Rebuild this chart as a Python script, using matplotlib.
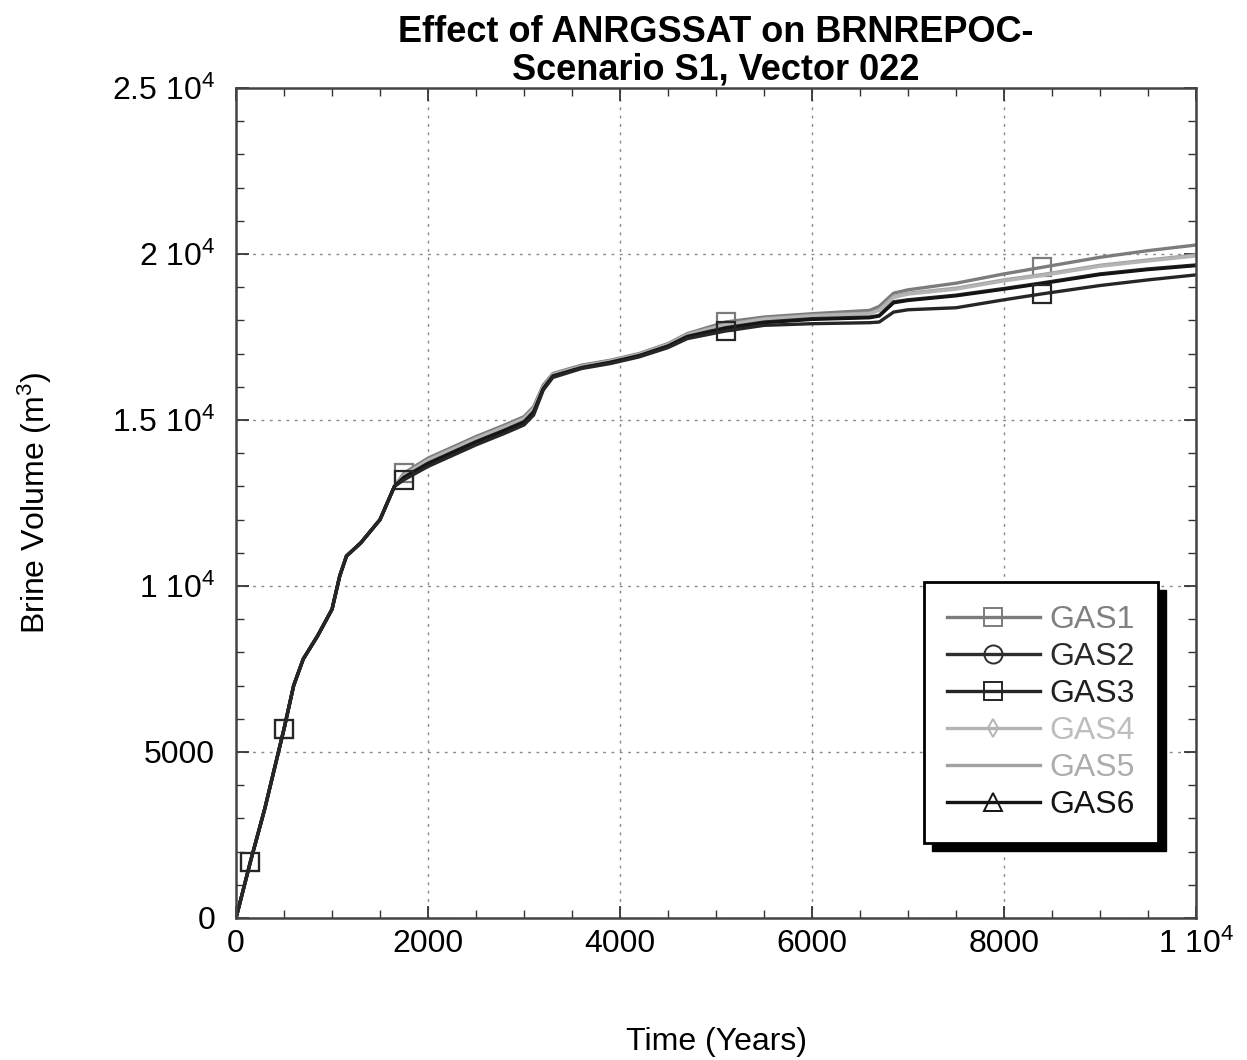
import matplotlib
matplotlib.use("Agg")
import matplotlib.pyplot as plt
from matplotlib.lines import Line2D
from matplotlib.patches import Rectangle
from matplotlib.ticker import FixedLocator, MultipleLocator, FixedFormatter

plt.rcParams['font.family'] = ['Liberation Sans', 'DejaVu Sans']
plt.rcParams['mathtext.default'] = 'regular'

# ---- data ----
time_years = [0, 150, 300, 500, 600, 700, 850, 1000, 1080, 1150, 1300, 1500, 1650, 1750,
              2000, 2500, 2800, 3000, 3100, 3200, 3300, 3600, 3900, 4200, 4500, 4700,
              5100, 5500, 6000, 6600, 6700, 6850, 7000, 7500, 8000, 8400, 9000, 9500, 10000]

early_common = [0, 1700, 3300, 5700, 7000, 7800, 8500, 9300, 10300, 10900, 11300, 12000, 13000]

gas1 = early_common + [13400, 13850, 14500, 14850, 15100, 15400, 16050, 16400, 16650, 16800,
                       17000, 17300, 17600, 17950, 18100, 18200, 18300, 18420, 18820, 18920,
                       19120, 19400, 19600, 19900, 20100, 20270]
gas5 = early_common + [13350, 13800, 14450, 14800, 15050, 15350, 16000, 16380, 16620, 16780,
                       16980, 17280, 17580, 17880, 18050, 18150, 18220, 18320, 18720, 18820,
                       18970, 19220, 19380, 19660, 19820, 19970]
gas4 = early_common + [13330, 13780, 14430, 14780, 15030, 15330, 15990, 16370, 16610, 16770,
                       16970, 17270, 17560, 17860, 18030, 18130, 18200, 18300, 18690, 18790,
                       18940, 19190, 19350, 19630, 19790, 19940]
gas2 = early_common + [13280, 13700, 14350, 14700, 14950, 15250, 15950, 16330, 16580, 16740,
                       16940, 17230, 17520, 17780, 17950, 18050, 18100, 18150, 18560, 18620,
                       18760, 18960, 19130, 19400, 19550, 19670]
gas6 = early_common + [13260, 13680, 14330, 14680, 14930, 15230, 15930, 16310, 16570, 16730,
                       16930, 17220, 17500, 17760, 17930, 18030, 18080, 18130, 18530, 18600,
                       18740, 18940, 19110, 19380, 19530, 19650]
gas3 = early_common + [13200, 13600, 14250, 14600, 14850, 15150, 15900, 16280, 16550, 16700,
                       16900, 17180, 17450, 17680, 17850, 17900, 17930, 17950, 18250, 18320,
                       18380, 18620, 18800, 19050, 19220, 19370]

series_names = ['GAS1', 'GAS2', 'GAS3', 'GAS4', 'GAS5', 'GAS6']
series_values = [gas1, gas2, gas3, gas4, gas5, gas6]
series_colors = ['#7c7c7c', '#2e2e2e', '#262626', '#b4b4b4', '#a2a2a2', '#141414']
legend_markers = ['s', 'o', 's', 'd', 'None', '^']
text_colors = ['#808080', '#2a2a2a', '#202020', '#bdbdbd', '#adadad', '#141414']
marker_times = [150, 500, 1750, 5100, 8400]

ytick_vals = [0, 5000, 10000, 15000, 20000, 25000]
ytick_labels = ['0', '5000', '1 10$^4$', '1.5 10$^4$', '2 10$^4$', '2.5 10$^4$']
xtick_vals = [0, 2000, 4000, 6000, 8000, 10000]
xtick_labels = ['0', '2000', '4000', '6000', '8000', '1 10$^4$']

# ---- figure ----
fig = plt.figure(figsize=(12.47, 10.6), dpi=100)
ax = fig.add_axes([0.1893, 0.1340, 0.7698, 0.7830])

mark_idx = [time_years.index(t) for t in marker_times]
draw_order = [0, 4, 3, 1, 5, 2]
for i in draw_order:
    kw = {}
    if legend_markers[i] == 's':
        kw = dict(marker='s', markevery=mark_idx, markersize=13, markerfacecolor='none',
                  markeredgecolor=series_colors[i], markeredgewidth=1.6)
    ax.plot(time_years, series_values[i], color=series_colors[i], lw=2.4, **kw)

ax.set_xlim(0, 10000)
ax.set_ylim(0, 25000)
ax.xaxis.set_major_locator(FixedLocator(xtick_vals))
ax.xaxis.set_major_formatter(FixedFormatter(xtick_labels))
ax.yaxis.set_major_locator(FixedLocator(ytick_vals))
ax.yaxis.set_major_formatter(FixedFormatter(ytick_labels))
ax.xaxis.set_minor_locator(MultipleLocator(500))
ax.yaxis.set_minor_locator(MultipleLocator(1000))
ax.tick_params(which='both', direction='in', top=True, right=True, color='#333333')
ax.tick_params(which='major', length=9, width=1.3, labelsize=23)
ax.tick_params(axis='x', which='major', pad=8)
ax.tick_params(axis='y', which='major', pad=15)
ax.tick_params(which='minor', length=6, width=1.0)
for sp in ax.spines.values():
    sp.set_linewidth(1.8)
    sp.set_color('#444444')
ax.grid(True, which='major', linestyle=(0, (2, 4)), color='#888888', linewidth=1.0)

ax.set_xlabel('Time (Years)', fontsize=23, labelpad=48)
ax.set_ylabel('Brine Volume (m$^3$)', fontsize=23, labelpad=42)
ax.set_title('Effect of ANRGSSAT on BRNREPOC-\nScenario S1, Vector 022',
             fontsize=26, fontweight='bold', pad=4, linespacing=1.1,
             family=['Liberation Sans Narrow', 'Liberation Sans', 'DejaVu Sans'])

handles = []
for i in range(6):
    m = legend_markers[i]
    handles.append(Line2D([], [], color=series_colors[i], lw=2.4, marker=m,
                          markersize=13 if m != 'd' else 9, markerfacecolor='none',
                          markeredgecolor=series_colors[i], markeredgewidth=1.4))
leg = ax.legend(handles, series_names, loc='lower right', bbox_to_anchor=(0.96, 0.09),
                fontsize=23, frameon=True, fancybox=False, handlelength=2.9,
                handletextpad=0.3, labelspacing=0.22, borderpad=0.72, borderaxespad=0)
leg.get_frame().set_edgecolor('black')
leg.get_frame().set_linewidth(2.0)
leg.get_frame().set_facecolor('white')
leg.get_frame().set_alpha(1)
for t, c in zip(leg.get_texts(), text_colors):
    t.set_color(c)
leg.set_zorder(10)

fig.canvas.draw()
bb = leg.get_window_extent()
fw, fh = fig.get_size_inches() * fig.dpi
off = 8
shadow = Rectangle(((bb.x0 + off) / fw, (bb.y0 - off) / fh), bb.width / fw, bb.height / fh,
                   transform=fig.transFigure, facecolor='black', edgecolor='black', zorder=9)
ax.add_artist(shadow)
shadow.set_clip_on(False)

fig.savefig('out.png', dpi=100)
